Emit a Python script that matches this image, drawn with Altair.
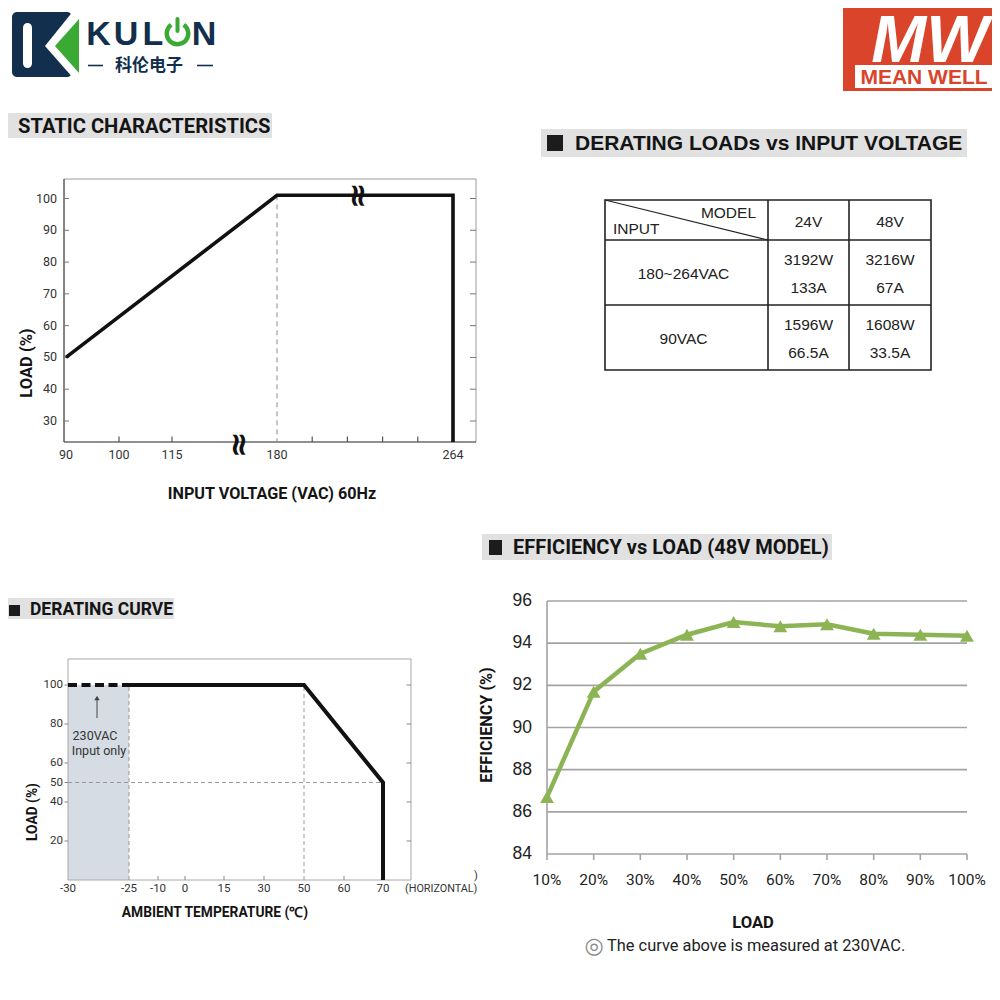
import altair as alt
import pandas as pd

# ================= DATA =================
# Static characteristics: load (%) vs input voltage (VAC)
sc_volt = [90, 180, 264, 264]
sc_load = [50, 101, 101, 23.4]
sc_x_ticks = [90, 100, 115, 180, 264]
sc_x_minor = [100, 115, 196.8, 213.6, 230.4, 247.2]
sc_y_ticks = [30, 40, 50, 60, 70, 80, 90, 100]

# Derating loads vs input voltage table
tb_models = ["24V", "48V"]
tb_inputs = ["180~264VAC", "90VAC"]
tb_power = [["3192W", "3216W"], ["1596W", "1608W"]]
tb_current = [["133A", "67A"], ["66.5A", "33.5A"]]

# Derating curve: load (%) vs ambient temperature
dc_temp = [-25, 50, 70, 70]
dc_load = [100, 100, 50, 0]
dc_temp_ext = [-30, -25]
dc_load_ext = [100, 100]
dc_x_ticks = [-30, -25, -10, 0, 15, 30, 50, 60, 70]
dc_x_minor = [-10, 0, 15, 30, 60]
dc_y_ticks = [100, 80, 60, 50, 40, 20]
dc_y_right = [100, 80, 60, 40, 20]

# Efficiency vs load (48V model)
ef_load = [10, 20, 30, 40, 50, 60, 70, 80, 90, 100]
ef_eff = [86.7, 91.7, 93.5, 94.4, 95.0, 94.8, 94.9, 94.45, 94.4, 94.35]
ef_y_ticks = [84, 86, 88, 90, 92, 94, 96]

# ================= LAYOUT HELPERS =================
OFF = 8
def P(v):
    return v - OFF

def S(domain, rng):
    return alt.Scale(domain=domain, range=[P(v) for v in rng], nice=False, zero=False)

def labels(vals):
    return pd.DataFrame({"v": vals, "lab": [str(v) for v in vals]})

SANS = "Liberation Sans, Arial, sans-serif"
NARROW = "Roboto, Liberation Sans, sans-serif"
CJK = "Noto Sans CJK SC, sans-serif"
ONE = pd.DataFrame({"k": [0]})
NAVY = "#12304d"
KGREEN = "#3aaa35"
MWRED = "#d9442b"
EGREEN = "#8cb454"

def ptext(text, x, y, size, font=SANS, weight="normal", color="#222", align="center",
          baseline="middle", angle=None, style=None):
    kw = dict(text=text, fontSize=size, font=font, fontWeight=weight, color=color,
              align=align, baseline=baseline)
    if angle is not None:
        kw["angle"] = angle
    if style:
        kw["fontStyle"] = style
    return alt.Chart(ONE).mark_text(**kw).encode(x=alt.value(P(x)), y=alt.value(P(y)))

def prule(x1, y1, x2, y2, color, width, dash=None):
    kw = dict(color=color, strokeWidth=width)
    if dash:
        kw["strokeDash"] = dash
    return alt.Chart(ONE).mark_rule(**kw).encode(
        x=alt.value(P(x1)), y=alt.value(P(y1)), x2=alt.value(P(x2)), y2=alt.value(P(y2)))

def prect(x1, y1, x2, y2, fill=None, stroke=None, sw=1, radius=None):
    kw = {}
    if fill:
        kw["fill"] = fill
    else:
        kw["fill"] = "#ffffff"
        kw["fillOpacity"] = 0
    if stroke:
        kw["stroke"] = stroke
        kw["strokeWidth"] = sw
    if radius:
        kw["cornerRadius"] = radius
    return alt.Chart(ONE).mark_rect(**kw).encode(
        x=alt.value(P(x1)), y=alt.value(P(y1)), x2=alt.value(P(x2)), y2=alt.value(P(y2)))

def pshape(path, x, y, color):
    # custom path in pixel units around (x, y): size 4 -> scale 1
    return alt.Chart(ONE).mark_point(shape=path, size=4, filled=True, color=color,
                                     opacity=1, strokeWidth=0).encode(
        x=alt.value(P(x)), y=alt.value(P(y)))

def title_bar(x1, y1, x2, y2, sq, text, tx, size, font):
    ls = [prect(x1, y1, x2, y2, fill="#e1e1e1")]
    if sq:
        ls.append(prect(*sq, fill="#1c1c1c"))
    ls.append(ptext(text, tx, (y1 + y2) / 2 + 1, size, font=font, weight="bold",
                    color="#141414", align="left"))
    return ls

L = []

# ================= LOGOS =================
L.append(prect(12, 12, 72, 77, fill=NAVY, radius=5))
L.append(pshape("M 14 -35 L 14 34 L -15 1 Z", 60, 45, "#ffffff"))
L.append(pshape("M 19 -26 L 19 28 L -5 1 Z", 60, 45, KGREEN))
L.append(prect(23, 23, 32, 68, fill="#ffffff", radius=4.5))
for ch, cx in [("K", 98.5), ("U", 126), ("L", 153), ("N", 204)]:
    L.append(ptext(ch, cx, 45, 34, weight="bold", color=NAVY, baseline="alphabetic"))
L.append(alt.Chart(ONE).mark_arc(theta=0.62, theta2=5.66, innerRadius=8.6, outerRadius=13,
                                 color=KGREEN).encode(x=alt.value(P(177.5)), y=alt.value(P(33.5))))
L.append(prect(175.5, 17, 179.5, 33, fill=KGREEN, radius=2))
L.append(prule(88, 65.5, 103, 65.5, NAVY, 1.6))
L.append(prule(197, 65.5, 213, 65.5, NAVY, 1.6))
L.append(ptext("科伦电子", 149, 66, 17, font=CJK, weight="bold", color=NAVY))

L.append(prect(843, 0, 997, 91, fill=MWRED))
L.append(ptext("MW", 930, 62, 66, weight="bold", style="italic", color="#ffffff",
               baseline="alphabetic"))
L.append(prect(855, 65, 993, 88, fill="#ffffff"))
L.append(ptext("MEAN WELL", 924, 77.5, 21, weight="bold", color=MWRED))

# ================= STATIC CHARACTERISTICS =================
L += title_bar(0, 113, 272, 138, None, "STATIC CHARACTERISTICS", 18, 20.2, NARROW)
SCX = S(sc_x_ticks, [66, 119, 172, 277, 453])
SCY = S([30, 100], [421, 198.5])
L.append(prect(64, 179, 476, 442, stroke="#9a9a9a", sw=1))
L.append(prule(64, 179, 64, 442, "#555555", 1.2))
L.append(prule(64, 442, 476, 442, "#555555", 1.2))

sc_y_df = labels(sc_y_ticks)
L.append(alt.Chart(sc_y_df).mark_text(align="right", baseline="middle", font=NARROW,
                                      fontSize=12.5, color="#333").encode(
    x=alt.value(P(57)), y=alt.Y("v:Q", scale=SCY, axis=None), text="lab:N"))
L.append(alt.Chart(sc_y_df).mark_rule(color="#777", strokeWidth=1).encode(
    x=alt.value(P(64)), x2=alt.value(P(69)), y=alt.Y("v:Q", scale=SCY, axis=None)))
L.append(alt.Chart(sc_y_df).mark_rule(color="#777", strokeWidth=1).encode(
    x=alt.value(P(470)), x2=alt.value(P(476)), y=alt.Y("v:Q", scale=SCY, axis=None)))

L.append(alt.Chart(labels(sc_x_ticks)).mark_text(align="center", baseline="middle", font=NARROW,
                                                 fontSize=12.5, color="#333").encode(
    x=alt.X("v:Q", scale=SCX, axis=None), y=alt.value(P(455)), text="lab:N"))
L.append(alt.Chart(pd.DataFrame({"v": sc_x_minor})).mark_rule(color="#555", strokeWidth=1.2).encode(
    x=alt.X("v:Q", scale=SCX, axis=None), y=alt.value(P(442)), y2=alt.value(P(436.5))))

L.append(alt.Chart(pd.DataFrame({"v": [180], "a": [sc_load[1]], "b": [sc_load[3]]})).mark_rule(
    color="#8a8a8a", strokeWidth=1, strokeDash=[5, 4]).encode(
    x=alt.X("v:Q", scale=SCX, axis=None), y=alt.Y("a:Q", scale=SCY, axis=None), y2="b:Q"))

sc_df = pd.DataFrame({"i": range(len(sc_volt)), "volt": sc_volt, "load": sc_load})
L.append(alt.Chart(sc_df).mark_line(color="#111", strokeWidth=3.6).encode(
    x=alt.X("volt:Q", scale=SCX, axis=None), y=alt.Y("load:Q", scale=SCY, axis=None),
    order="i:Q"))
L.append(ptext("≈", 358, 196, 32, font="DejaVu Sans", weight="bold", color="#111", angle=90))
L.append(ptext("≈", 239, 445, 32, font="DejaVu Sans", weight="bold", color="#111", angle=90))
L.append(ptext("LOAD (%)", 27, 363, 16.5, font=NARROW, weight="bold", color="#141414", angle=270))
L.append(ptext("INPUT VOLTAGE (VAC) 60Hz", 272, 494, 16.2, font=NARROW, weight="bold",
               color="#141414"))

# ================= DERATING LOADS TABLE =================
L += title_bar(541, 129, 967, 157, (547, 135, 563, 151), "DERATING LOADs vs INPUT VOLTAGE",
               575, 21, SANS)
TBX = S([0, 1, 2, 3], [605, 768, 849, 931])
TBY = S([0, 1, 2, 3], [200, 240, 305, 370])
L.append(prect(605, 200, 931, 370, stroke="#222", sw=1.6))
L.append(prule(768, 200, 768, 370, "#222", 1.6))
L.append(prule(849, 200, 849, 370, "#222", 1.6))
L.append(prule(605, 240, 931, 240, "#222", 1.6))
L.append(prule(605, 305, 931, 305, "#222", 1.6))
L.append(prule(605, 200, 768, 240, "#222", 1.2))
L.append(ptext("MODEL", 756, 213, 15.5, align="right"))
L.append(ptext("INPUT", 613, 229, 15.5, align="left"))

hdr = pd.DataFrame({"c": [1.5, 2.5], "r": [0.5, 0.5], "t": tb_models})
L.append(alt.Chart(hdr).mark_text(font=SANS, fontSize=15.5, color="#222", dy=2).encode(
    x=alt.X("c:Q", scale=TBX, axis=None), y=alt.Y("r:Q", scale=TBY, axis=None), text="t:N"))
inp = pd.DataFrame({"c": [0.5, 0.5], "r": [1.5, 2.5], "t": tb_inputs})
L.append(alt.Chart(inp).mark_text(font=SANS, fontSize=15.5, color="#222", dx=-3, dy=1).encode(
    x=alt.X("c:Q", scale=TBX, axis=None), y=alt.Y("r:Q", scale=TBY, axis=None), text="t:N"))
cells = []
for i in range(len(tb_inputs)):
    for j in range(len(tb_models)):
        cells.append({"c": j + 1.5, "r": i + 1.5, "p": tb_power[i][j], "a": tb_current[i][j]})
cells = pd.DataFrame(cells)
L.append(alt.Chart(cells).mark_text(font=SANS, fontSize=15.5, color="#222", dy=-13).encode(
    x=alt.X("c:Q", scale=TBX, axis=None), y=alt.Y("r:Q", scale=TBY, axis=None), text="p:N"))
L.append(alt.Chart(cells).mark_text(font=SANS, fontSize=15.5, color="#222", dy=15).encode(
    x=alt.X("c:Q", scale=TBX, axis=None), y=alt.Y("r:Q", scale=TBY, axis=None), text="a:N"))

# ================= DERATING CURVE =================
L += title_bar(3, 598, 174, 619, (9, 605, 20, 616), "DERATING CURVE", 30, 17.5, NARROW)
DCX = S(dc_x_ticks, [68, 129, 158, 185, 224, 264, 304, 344, 383])
DCY = S([0, 100], [880, 685])
L.append(alt.Chart(pd.DataFrame({"a": [-30], "b": [-25], "c": [0], "d": [100]})).mark_rect(
    color="#d6dce4").encode(x=alt.X("a:Q", scale=DCX, axis=None), x2="b:Q",
                            y=alt.Y("c:Q", scale=DCY, axis=None), y2="d:Q"))
L.append(prect(68, 659, 411, 880, stroke="#a8a8a8", sw=1))
L.append(alt.Chart(pd.DataFrame({"x": [-25, 50], "a": [0, 0], "b": [100, 100]})).mark_rule(
    color="#9a9a9a", strokeWidth=1, strokeDash=[4, 3]).encode(
    x=alt.X("x:Q", scale=DCX, axis=None), y=alt.Y("a:Q", scale=DCY, axis=None), y2="b:Q"))
L.append(alt.Chart(pd.DataFrame({"a": [-30], "b": [70], "y": [50]})).mark_rule(
    color="#9a9a9a", strokeWidth=1, strokeDash=[4, 3]).encode(
    x=alt.X("a:Q", scale=DCX, axis=None), x2="b:Q", y=alt.Y("y:Q", scale=DCY, axis=None)))

dcy_df = labels(dc_y_ticks)
L.append(alt.Chart(dcy_df).mark_text(align="right", baseline="middle", font=NARROW,
                                     fontSize=11.5, color="#333").encode(
    x=alt.value(P(63)), y=alt.Y("v:Q", scale=DCY, axis=None), text="lab:N"))
L.append(alt.Chart(dcy_df).mark_rule(color="#888", strokeWidth=1).encode(
    x=alt.value(P(64.5)), x2=alt.value(P(68)), y=alt.Y("v:Q", scale=DCY, axis=None)))
L.append(alt.Chart(pd.DataFrame({"v": dc_y_right})).mark_rule(color="#888", strokeWidth=1).encode(
    x=alt.value(P(406.5)), x2=alt.value(P(411)), y=alt.Y("v:Q", scale=DCY, axis=None)))
L.append(alt.Chart(labels(dc_x_ticks)).mark_text(
    align="center", baseline="middle", font=NARROW, fontSize=11.5, color="#333").encode(
    x=alt.X("v:Q", scale=DCX, axis=None), y=alt.value(P(889)), text="lab:N"))
L.append(alt.Chart(pd.DataFrame({"v": dc_x_minor})).mark_rule(color="#888", strokeWidth=1).encode(
    x=alt.X("v:Q", scale=DCX, axis=None), y=alt.value(P(880)), y2=alt.value(P(876))))
L.append(ptext("(HORIZONTAL)", 405, 889, 10.8, font=NARROW, color="#333", align="left"))
L.append(ptext(")", 476, 876, 11, font=NARROW, color="#333"))

dc_df = pd.DataFrame({"i": range(len(dc_temp)), "t": dc_temp, "l": dc_load})
L.append(alt.Chart(dc_df).mark_line(color="#111", strokeWidth=4).encode(
    x=alt.X("t:Q", scale=DCX, axis=None), y=alt.Y("l:Q", scale=DCY, axis=None), order="i:Q"))
L.append(alt.Chart(pd.DataFrame({"t": dc_temp_ext, "l": dc_load_ext})).mark_line(
    color="#111", strokeWidth=4, strokeDash=[9, 4.5]).encode(
    x=alt.X("t:Q", scale=DCX, axis=None), y=alt.Y("l:Q", scale=DCY, axis=None)))
L.append(prule(97, 718, 97, 699, "#444", 1))
L.append(alt.Chart(ONE).mark_point(shape="triangle-up", size=30, filled=True, color="#444",
                                   opacity=1).encode(x=alt.value(P(97)), y=alt.value(P(698))))
L.append(ptext("230VAC", 95, 736, 12.5, font=NARROW, color="#333"))
L.append(ptext("Input only", 99, 751, 12.5, font=NARROW, color="#333"))
L.append(ptext("LOAD (%)", 33, 812, 13.8, font=NARROW, weight="bold", color="#141414", angle=270))
L.append(ptext("AMBIENT TEMPERATURE (℃)", 215, 913, 13.8, font=NARROW, weight="bold",
               color="#141414"))

# ================= EFFICIENCY vs LOAD =================
L += title_bar(482, 534, 832, 560, (489, 540, 502, 555), "EFFICIENCY vs LOAD (48V MODEL)",
               513, 20, NARROW)
EFX = S([10, 100], [547, 967])
EFY = S([84, 96], [854, 601])
efy_df = labels(ef_y_ticks)
L.append(alt.Chart(efy_df).mark_rule(color="#a3a3a3", strokeWidth=1.6).encode(
    x=alt.value(P(547)), x2=alt.value(P(967)), y=alt.Y("v:Q", scale=EFY, axis=None)))
L.append(prule(547, 601, 547, 854, "#a3a3a3", 1.6))
L.append(alt.Chart(pd.DataFrame({"v": ef_load})).mark_rule(color="#a3a3a3", strokeWidth=1.6).encode(
    x=alt.X("v:Q", scale=EFX, axis=None), y=alt.value(P(854)), y2=alt.value(P(860))))
L.append(alt.Chart(efy_df).mark_text(align="right", baseline="middle", font=SANS,
                                     fontSize=17.5, color="#222").encode(
    x=alt.value(P(532)), y=alt.Y("v:Q", scale=EFY, axis=None), text="lab:N"))
efx_df = pd.DataFrame({"v": ef_load, "lab": [f"{v}%" for v in ef_load]})
L.append(alt.Chart(efx_df).mark_text(align="center", baseline="middle", font=NARROW,
                                     fontSize=15.5, color="#222").encode(
    x=alt.X("v:Q", scale=EFX, axis=None), y=alt.value(P(880)), text="lab:N"))
ef_df = pd.DataFrame({"load": ef_load, "eff": ef_eff})
L.append(alt.Chart(ef_df).mark_line(color=EGREEN, strokeWidth=4.5).encode(
    x=alt.X("load:Q", scale=EFX, axis=None), y=alt.Y("eff:Q", scale=EFY, axis=None)))
L.append(alt.Chart(ef_df).mark_point(shape="triangle-up", size=190, filled=True, color=EGREEN,
                                     opacity=1).encode(
    x=alt.X("load:Q", scale=EFX, axis=None), y=alt.Y("eff:Q", scale=EFY, axis=None)))
L.append(ptext("EFFICIENCY (%)", 487, 725, 16.2, font=NARROW, weight="bold", color="#141414",
               angle=270))
L.append(ptext("LOAD", 753, 923, 16.6, font=NARROW, weight="bold", color="#141414"))
L.append(ptext("◎", 594, 946, 22, font="DejaVu Sans", color="#8a8a8a"))
L.append(ptext("The curve above is measured at 230VAC.", 607, 946, 16.4, font=NARROW,
               color="#222", align="left"))

chart = alt.layer(*L).resolve_scale(x="independent", y="independent").properties(
    width=984, height=984, autosize="none", padding=0, background="white"
).configure_view(stroke=None)

chart.save("out.html", embed_options={"renderer": "svg", "actions": False})
